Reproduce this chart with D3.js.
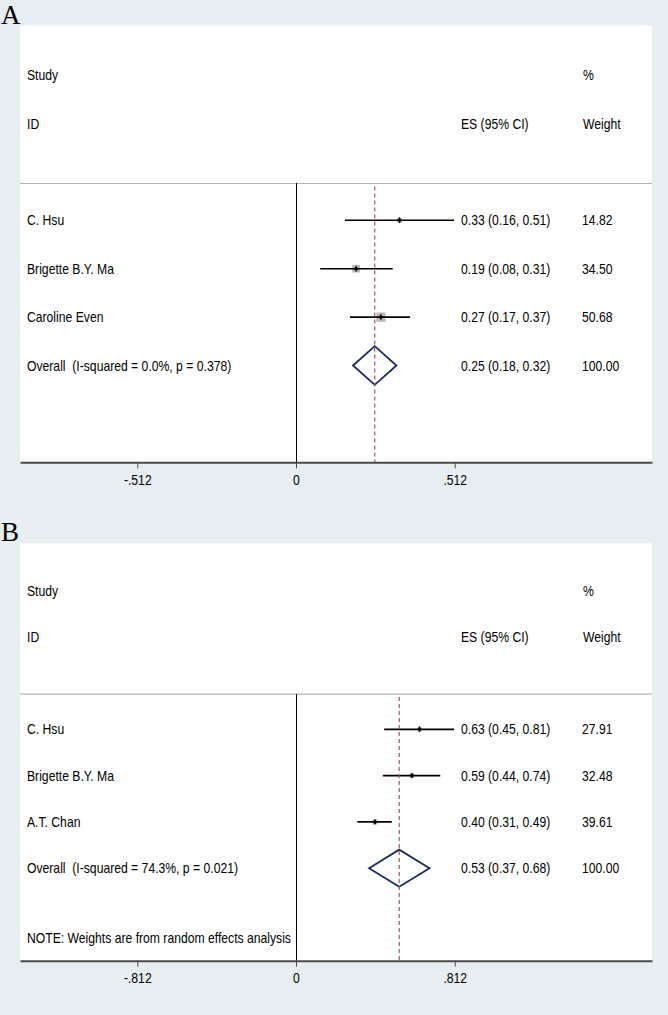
<!DOCTYPE html>
<html>
<head>
<meta charset="utf-8">
<script src="https://cdn.jsdelivr.net/npm/d3@7"></script>
<style>
  body { margin: 0; background: #e7eef1; }
  text { font-family: "Liberation Sans", Arial, sans-serif; font-size: 14.5px; fill: #000; white-space: pre; }
</style>
</head>
<body>
<div id="chart"></div>
<script>
// Panel A
var studiesA = ["C. Hsu", "Brigette B.Y. Ma", "Caroline Even"];
var esA = [0.334, 0.194, 0.274];
var lowA = [0.158, 0.078, 0.174];
var highA = [0.510, 0.312, 0.368];
var weightA = [14.82, 34.50, 50.68];
var overallA = [0.254, 0.184, 0.324];   // es, low, high
var isqA = 0.0, pA = 0.378;
var ticksA = [-0.512, 0, 0.512];

// Panel B
var studiesB = ["C. Hsu", "Brigette B.Y. Ma", "A.T. Chan"];
var esB = [0.632, 0.593, 0.404];
var lowB = [0.451, 0.444, 0.314];
var highB = [0.809, 0.738, 0.490];
var weightB = [27.91, 32.48, 39.61];
var overallB = [0.528, 0.374, 0.683];
var isqB = 74.3, pB = 0.021;
var ticksB = [-0.812, 0, 0.812];
var noteB = "NOTE: Weights are from random effects analysis";

var W = 668, H = 1015;
var f2 = d3.format(".2f");

var svg = d3.select("#chart").append("svg")
    .attr("width", W)
    .attr("height", H);

svg.append("rect").attr("width", W).attr("height", H).attr("fill", "#e7eef1");

// condensed look of the Stata font
function txt(g, x, y, s, anchor) {
    return g.append("text")
        .attr("transform", "translate(" + x + "," + y + ") scale(0.84,1)")
        .attr("dy", "0.35em")
        .attr("xml:space", "preserve")
        .attr("text-anchor", anchor || "start")
        .text(s);
}

function forest(p) {
    var left = 20, right = 652;
    var t = p.ticks[2];
    var x = d3.scaleLinear()
        .domain([-1.739 * t, 2.243 * t])
        .range([left, right]);
    // rows: Study = 0, ID = 1, studies 3.., axis at 8
    var y = d3.scaleLinear()
        .domain([-1.02, 8])
        .range([p.top, p.bottom]);

    var g = svg.append("g");

    g.append("text")
        .attr("x", 1)
        .attr("y", p.top - 2)
        .style("font-family", "'Liberation Serif', 'Times New Roman', serif")
        .style("font-size", "27px")
        .text(p.letter);

    g.append("rect")
        .attr("x", left).attr("y", p.top)
        .attr("width", right - left).attr("height", p.bottom - p.top)
        .attr("fill", "#fff");

    // headers
    txt(g, 27, y(0), "Study");
    txt(g, 27, y(1), "ID");
    txt(g, 461, y(1), "ES (95% CI)");
    txt(g, 583, y(0), "%");
    txt(g, 583, y(1), "Weight");

    g.append("line")
        .attr("x1", left).attr("x2", right)
        .attr("y1", y(2.24)).attr("y2", y(2.24))
        .attr("stroke", "#b4b4b4").attr("stroke-width", 1.2);

    // null line
    g.append("line")
        .attr("x1", x(0) + 0.5).attr("x2", x(0) + 0.5)
        .attr("y1", y(2.24)).attr("y2", p.bottom)
        .attr("stroke", "#000").attr("stroke-width", 1)
        .attr("shape-rendering", "crispEdges");

    var rows = p.studies.map(function(s, i) {
        return { name: s, es: p.es[i], lo: p.low[i], hi: p.high[i], w: p.weight[i], row: 3 + i };
    });

    var r = g.selectAll(".study")
        .data(rows)
        .enter().append("g")
            .attr("class", "study");

    r.append("rect")
        .attr("x", function(d) { return x(d.es) - Math.sqrt(d.w) * p.box / 2; })
        .attr("y", function(d) { return y(d.row) - Math.sqrt(d.w) * p.box / 2; })
        .attr("width", function(d) { return Math.sqrt(d.w) * p.box; })
        .attr("height", function(d) { return Math.sqrt(d.w) * p.box; })
        .attr("fill", "#b8b8b8");

    r.append("line")
        .attr("x1", function(d) { return x(d.lo); })
        .attr("x2", function(d) { return x(d.hi); })
        .attr("y1", function(d) { return y(d.row); })
        .attr("y2", function(d) { return y(d.row); })
        .attr("stroke", "#000").attr("stroke-width", 1.6);

    r.append("path")
        .attr("d", d3.symbol(d3.symbolDiamond).size(12))
        .attr("transform", function(d) { return "translate(" + x(d.es) + "," + y(d.row) + ")"; })
        .attr("fill", "#000");

    r.each(function(d) {
        var s = d3.select(this);
        txt(s, 27, y(d.row), d.name);
        txt(s, 461, y(d.row), f2(d.es) + " (" + f2(d.lo) + ", " + f2(d.hi) + ")");
        txt(s, 582, y(d.row), f2(d.w));
    });

    // overall
    var oRow = 3 + rows.length;
    var o = p.overall;
    g.append("path")
        .attr("d", "M" + x(o[1]) + "," + y(oRow) +
                   "L" + x(o[0]) + "," + y(oRow - 0.4) +
                   "L" + x(o[2]) + "," + y(oRow) +
                   "L" + x(o[0]) + "," + y(oRow + 0.4) + "Z")
        .attr("fill", "none")
        .attr("stroke", "#1d2a5c")
        .attr("stroke-width", 1.8);

    g.append("line")
        .attr("x1", x(o[0])).attr("x2", x(o[0]))
        .attr("y1", y(2.3)).attr("y2", p.bottom)
        .attr("stroke", "#b0505c").attr("stroke-width", 1.2)
        .attr("stroke-dasharray", "4,3");

    txt(g, 27, y(oRow), "Overall  (I-squared = " + d3.format(".1f")(p.isq) + "%, p = " + d3.format(".3f")(p.p) + ")");
    txt(g, 461, y(oRow), f2(o[0]) + " (" + f2(o[1]) + ", " + f2(o[2]) + ")");
    txt(g, 582, y(oRow), f2(d3.sum(p.weight)));

    if (p.note) txt(g, 27, y(7.5), p.note);

    // x axis
    var ax = g.append("g")
        .attr("transform", "translate(0," + p.bottom + ")")
        .call(d3.axisBottom(x)
            .tickValues(p.ticks)
            .tickSize(6)
            .tickSizeOuter(0)
            .tickPadding(6)
            .tickFormat(function(d) {
                return d === 0 ? "0" : d3.format(".3f")(d).replace("\u2212", "-").replace("0.", ".");
            }));
    ax.select(".domain").attr("stroke", "#4a4a4a").attr("stroke-width", 2);
    ax.selectAll(".tick line").attr("stroke", "#4a4a4a");
    ax.selectAll(".tick text")
        .attr("transform", "scale(0.84,1)")
        .style("font-family", "'Liberation Sans', Arial, sans-serif")
        .style("font-size", "14.5px")
        .attr("fill", "#000");
}

forest({ letter: "A", top: 25.7, bottom: 462.3, ticks: ticksA, studies: studiesA,
         es: esA, low: lowA, high: highA, weight: weightA, overall: overallA,
         isq: isqA, p: pA, box: 1.3 });

forest({ letter: "B", top: 543.3, bottom: 960.7, ticks: ticksB, studies: studiesB,
         es: esB, low: lowB, high: highB, weight: weightB, overall: overallB,
         isq: isqB, p: pB, box: 0.8, note: noteB });
</script>
</body>
</html>
